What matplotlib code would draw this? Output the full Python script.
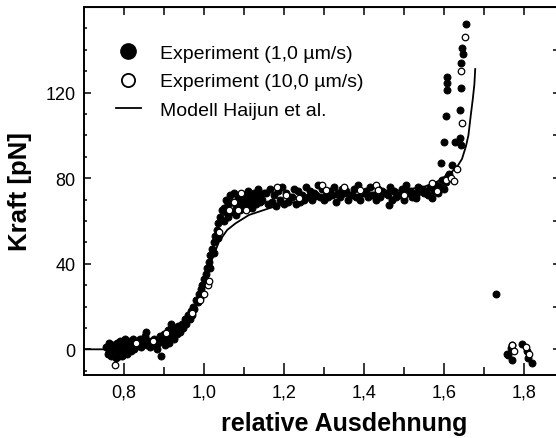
import numpy as np
import matplotlib
matplotlib.use("Agg")
import matplotlib.pyplot as plt
from matplotlib.lines import Line2D

plt.rcParams['font.family'] = ['Liberation Sans', 'DejaVu Sans']

# Experiment 1,0 um/s (filled)
slow_x = [0.755, 0.760, 0.762, 0.765, 0.768, 0.770, 0.772, 0.778, 0.780, 0.782, 0.785, 0.788, 0.790, 0.792,
          0.795, 0.798, 0.800, 0.802, 0.805, 0.808, 0.810, 0.812, 0.815, 0.818, 0.820, 0.823, 0.826, 0.830,
          0.763, 0.775, 0.787, 0.797, 0.807, 0.817, 0.827,
          0.835, 0.840, 0.843, 0.848, 0.852, 0.855, 0.858, 0.862, 0.866, 0.870, 0.874, 0.878, 0.882, 0.886,
          0.8925, 0.890,
          0.895, 0.900, 0.903, 0.906, 0.910, 0.913, 0.916, 0.9175, 0.920, 0.924, 0.928, 0.932, 0.936, 0.940,
          0.944, 0.948, 0.952,
          0.955, 0.960, 0.964, 0.968, 0.972, 0.976, 0.980, 0.984, 0.988, 0.992, 0.996, 1.000, 1.004, 1.008,
          1.012, 1.016, 1.020, 1.024, 1.028, 1.032, 1.036, 1.040, 1.045,
          0.970, 0.990, 1.005, 1.015, 1.025, 1.035,
          1.050, 1.055, 1.060, 1.065, 1.070, 1.075, 1.080, 1.085, 1.090, 1.095, 1.100, 1.105, 1.110, 1.115,
          1.120, 1.125, 1.130, 1.135, 1.140, 1.145, 1.150,
          1.050, 1.055, 1.060, 1.070, 1.080, 1.090, 1.100, 1.110, 1.120, 1.130, 1.140,
          1.155, 1.165, 1.175, 1.185, 1.195, 1.205, 1.215, 1.225, 1.235, 1.245, 1.255, 1.265, 1.275, 1.285,
          1.295, 1.305, 1.315, 1.325, 1.335, 1.345, 1.355, 1.365, 1.375, 1.385, 1.395, 1.405, 1.415, 1.425,
          1.435, 1.445, 1.455, 1.465, 1.475, 1.485, 1.495, 1.505, 1.515, 1.525, 1.535, 1.545,
          1.160, 1.170, 1.180, 1.190, 1.200, 1.210, 1.220, 1.230, 1.240, 1.250, 1.260, 1.270, 1.280, 1.290,
          1.300, 1.310, 1.320, 1.330, 1.340, 1.350, 1.360, 1.370, 1.380, 1.390, 1.400, 1.410, 1.420, 1.430,
          1.440, 1.450, 1.460, 1.470, 1.480, 1.490, 1.500, 1.510, 1.520, 1.530, 1.540, 1.550,
          1.1375, 1.4625, 1.529, 1.570,
          1.555, 1.560, 1.565, 1.575, 1.580, 1.585, 1.590, 1.595, 1.600, 1.605, 1.610,
          1.654, 1.648, 1.642, 1.645, 1.6075, 1.6075, 1.608, 1.642, 1.604, 1.641, 1.600, 1.628, 1.6425,
          1.592, 1.620, 1.6125, 1.640,
          1.729, 1.767, 1.760, 1.770, 1.758, 1.771, 1.795, 1.820, 1.810, 1.808]
slow_y = [1, -2, 3, 0, -3, 2, -1, 1, -4, 3, 0, -2, 4, 1,
          -3, 2, -1, 5, 1, -2, 3, 0, 4, -1, 2, 5, 0, 3,
          -1, 2, -3, 4, -1, 2, 1,
          2, 5, 1, 3, 6, 8, 2, 4, 1, 3, 5, 2, 0, 3,
          -3, 6,
          4, 7, 2, 5, 9, 3, 6, 12, 8, 5, 10, 7, 11, 8,
          12, 10, 14,
          12, 16, 14, 18, 20, 19, 23, 22, 26, 28, 30, 33, 35, 38,
          41, 44, 47, 50, 53, 56, 59, 62, 65,
          16, 24, 31, 38, 45, 52,
          66, 70, 68, 72, 69, 73, 67, 71, 70, 68, 72, 70, 74, 71,
          69, 73, 71, 75, 72, 70, 73,
          60, 64, 62, 64, 63, 65, 66, 67, 66, 68, 69,
          73, 75, 72, 74, 76, 73, 71, 75, 74, 72, 76, 74, 73, 77,
          75, 72, 74, 76, 73, 75, 74, 72, 75, 77, 73, 74, 76, 72,
          75, 74, 73, 76, 74, 72, 75, 77, 74, 73, 76, 75,
          68, 69, 67, 70, 68, 69, 71, 68, 69, 70, 71, 70, 72, 71,
          70, 71, 72, 69, 71, 73, 70, 72, 71, 70, 73, 71, 72, 70,
          71, 73, 72, 70, 71, 72, 70, 73, 71, 72, 74, 73,
          71.5, 67.4, 70.6, 70.6,
          74, 72, 76, 74, 77, 73, 76, 79, 75, 78, 81,
          152, 138, 134, 141, 127.5, 124.5, 121, 122, 109, 112, 97, 97, 95.5,
          87, 86, 82, 99,
          25.7, 0.5, -2.6, 2, -2, -5, 2.3, -6.5, -4, -1]

# Experiment 10,0 um/s (open)
fast_x = [0.777, 0.830, 0.8725, 0.905, 0.970, 0.990, 1.000, 1.010, 1.013, 1.0375, 1.0625, 1.075, 1.092,
          1.104, 1.085, 1.1825, 1.204, 1.2375, 1.295, 1.305, 1.390, 1.429, 1.434, 1.350, 1.500, 1.570,
          1.583, 1.604, 1.617, 1.625, 1.6325, 1.645, 1.643, 1.652,
          1.770, 1.775, 1.812, 1.805]
fast_y = [-7.5, 3, 3.7, 7.5, 17, 23, 26, 30, 32, 55, 65, 69, 73,
          65, 65, 76, 72, 70.6, 76.8, 74.5, 74.5, 76.8, 74.5, 76, 72, 77.6,
          73.8, 79, 80, 78.5, 84.5, 105.6, 130, 146,
          2, -1, -2, 1]

# Modell Haijun et al.
model_x = [0.70, 0.75, 0.80, 0.85, 0.88, 0.90, 0.92, 0.94, 0.96, 0.98, 0.992, 1.004, 1.021, 1.0375,
           1.058, 1.079, 1.1125, 1.1625, 1.20, 1.25, 1.30, 1.35, 1.40, 1.45, 1.50, 1.55, 1.58, 1.60,
           1.62, 1.635, 1.645, 1.655, 1.661, 1.667, 1.672, 1.676, 1.678]
model_y = [0, 0, 0.3, 1, 2, 3, 5, 8, 13, 20, 25.4, 34.7, 42.5, 50.3,
           55.8, 58.9, 62.8, 65.9, 68, 69.5, 70.5, 71.5, 72.5, 73.5, 74.5, 76, 78, 80.5,
           83, 86, 89, 95, 100, 109.5, 117, 124, 131]

fig = plt.figure(figsize=(5.56, 4.39), dpi=100)
ax = fig.add_axes([84 / 556, 63 / 439, 520 / 556, 368 / 439])

ax.plot(model_x, model_y, color='black', lw=1.3, zorder=2)
ax.scatter(slow_x, slow_y, s=26, marker='o', facecolor='black', edgecolor='black', linewidth=0.6, zorder=3)
ax.scatter(fast_x, fast_y, s=22, marker='o', facecolor='white', edgecolor='black', linewidth=0.9, zorder=4)

ax.set_xlim(0.7, 2.0)
ax.set_ylim(-12, 160)
ax.set_xticks(np.arange(0.8, 1.81, 0.2))
ax.set_xticks(np.arange(0.8, 1.95, 0.1), minor=True)
ax.set_xticklabels(['0,8', '1,0', '1,2', '1,4', '1,6', '1,8'])
ax.set_yticks([0, 40, 80, 120])
ax.set_yticks(np.arange(-10, 160, 10), minor=True)
ax.tick_params(axis='both', which='both', direction='in', labelsize=13, width=1.1, color='black')
ax.tick_params(axis='x', which='major', length=9, pad=6)
ax.tick_params(axis='x', which='minor', length=5.5)
ax.tick_params(axis='y', which='major', length=5, pad=6)
ax.tick_params(axis='y', which='minor', length=2.5)
for sp in ax.spines.values():
    sp.set_linewidth(1.4)

top = ax.secondary_xaxis('top')
top.set_xticks(np.arange(0.8, 1.95, 0.1))
top.tick_params(direction='in', length=5.5, width=1.1, labeltop=False)

# ticks of a cropped neighbour panel on the right edge
rx = fig.add_axes([553 / 556, 63 / 439, 3 / 556, 368 / 439])
rx.set_ylim(-12, 160)
rx.set_yticks(np.arange(0, 141, 20))
rx.tick_params(axis='y', direction='in', length=3, width=1.1, labelleft=False)
rx.set_xticks([])
rx.patch.set_visible(False)
for sp in rx.spines.values():
    sp.set_visible(False)

ax.set_xlabel('relative Ausdehnung', fontsize=18, fontweight='bold', labelpad=8)
ax.set_ylabel('Kraft [pN]', fontsize=18.5, fontweight='bold', labelpad=10)

handles = [
    Line2D([], [], marker='o', ls='none', color='black', markersize=11),
    Line2D([], [], marker='o', ls='none', markerfacecolor='white', markeredgecolor='black',
           markeredgewidth=1.3, markersize=9.5),
    Line2D([], [], color='black', lw=1.3),
]
labels = ['Experiment (1,0 \u00b5m/s)', 'Experiment (10,0 \u00b5m/s)', 'Modell Haijun et al.']
ax.legend(handles, labels, loc='upper left', bbox_to_anchor=(0.046, 0.92), frameon=False,
          fontsize=14, handlelength=1.3, handletextpad=1.0, labelspacing=0.56, borderaxespad=0)

fig.savefig('out.png', dpi=100)
